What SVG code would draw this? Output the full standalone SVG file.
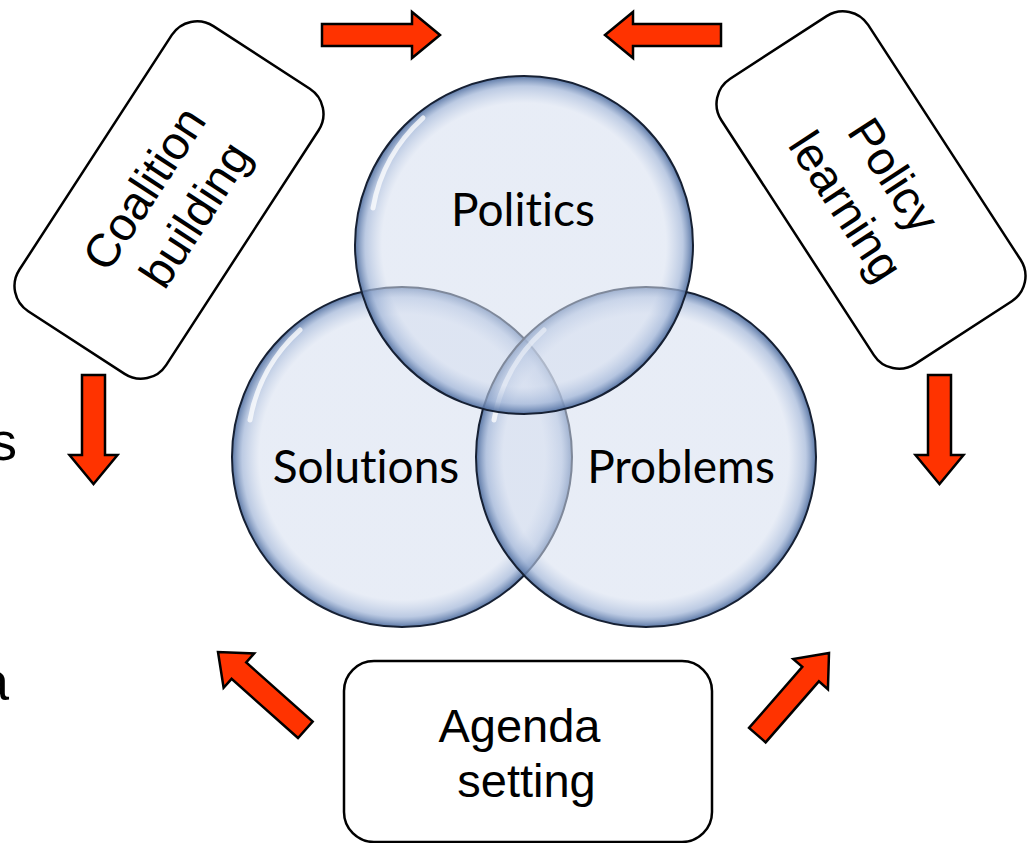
<svg xmlns="http://www.w3.org/2000/svg" width="1032" height="843" viewBox="0 0 1032 843">
<style>
.box{fill:#fff;stroke:#000;stroke-width:2.5}
.lbl{font-family:"Liberation Sans",Arial,sans-serif;font-size:47px;fill:#000;text-anchor:middle}
.clbl{font-family:Lato,"Open Sans",sans-serif;font-size:46px;fill:#000;text-anchor:middle;font-variant-ligatures:none;font-feature-settings:"liga" 0,"clig" 0}
.arr{fill:#FF3300;stroke:#000;stroke-width:2.5;stroke-linejoin:miter}
.ring{fill:url(#bub);stroke:#162033;stroke-width:2}
.hl{fill:none;stroke:#fff;stroke-width:5;stroke-linecap:round;opacity:0.75}
</style>
<defs>
<radialGradient id="bub" cx="0.5" cy="0.5" r="0.5">
<stop offset="0" stop-color="#D5DEEF" stop-opacity="0.55"/>
<stop offset="0.84" stop-color="#D5DEEF" stop-opacity="0.55"/>
<stop offset="0.94" stop-color="#A2B6D8" stop-opacity="0.72"/>
<stop offset="1" stop-color="#4E6D9F" stop-opacity="0.92"/>
</radialGradient>
</defs>
<rect width="1032" height="843" fill="#fff"/>
<g id="edge-text">
<text x="-10" y="460" font-family="Liberation Sans,Arial,sans-serif" font-size="54">s</text>
<text x="-21" y="700" font-family="Liberation Sans,Arial,sans-serif" font-size="54">a</text>
</g>
<g id="venn">
<g id="solutions">
<circle class="ring" cx="402" cy="457" r="170"/>
<path class="hl" d="M250,420 A158,158 0 0 1 300,330"/>
</g>
<g id="problems">
<circle class="ring" cx="646" cy="457" r="170"/>
<path class="hl" d="M494,420 A158,158 0 0 1 544,330"/>
</g>
<g id="politics">
<circle class="ring" cx="524" cy="245" r="169"/>
<path class="hl" d="M373,208 A158,158 0 0 1 423,118"/>
</g>
<text class="clbl" x="523" y="226">Politics</text>
<text class="clbl" x="366" y="483">Solutions</text>
<text class="clbl" x="681" y="483">Problems</text>
</g>
<g id="coalition-building" transform="translate(169,200) rotate(-57)">
<rect class="box" x="-170" y="-87.5" width="340" height="175" rx="30"/>
<text class="lbl" x="-4" y="-11">Coalition</text>
<text class="lbl" x="2" y="46">building</text>
</g>
<g id="policy-learning" transform="translate(871,190) rotate(57)">
<rect class="box" x="-170" y="-87.5" width="340" height="175" rx="30"/>
<text class="lbl" x="0" y="-11">Policy</text>
<text class="lbl" x="0" y="46">learning</text>
</g>
<g id="agenda-setting">
<rect class="box" x="344" y="661" width="368" height="181" rx="30"/>
<text class="lbl" x="519.5" y="742">Agenda</text>
<text class="lbl" x="526.5" y="797">setting</text>
</g>
<g id="connectors">
<path class="arr" transform="translate(440,35)" d="M-118,-11H-28V-23L0,0L-28,23V11H-118Z"/>
<path class="arr" transform="translate(605,35) rotate(180)" d="M-116,-11H-28V-23L0,0L-28,23V11H-116Z"/>
<path class="arr" transform="translate(93.5,484) rotate(90)" d="M-109,-11.5H-29V-24L0,0L-29,24V11.5H-109Z"/>
<path class="arr" transform="translate(939.5,484) rotate(90)" d="M-109,-11.5H-29V-24L0,0L-29,24V11.5H-109Z"/>
<path class="arr" transform="translate(218,652) rotate(221.7)" d="M-117,-11H-28V-23L0,0L-28,23V11H-117Z"/>
<path class="arr" transform="translate(829,653) rotate(-48.9)" d="M-109,-11H-28V-23L0,0L-28,23V11H-109Z"/>
</g>
</svg>
